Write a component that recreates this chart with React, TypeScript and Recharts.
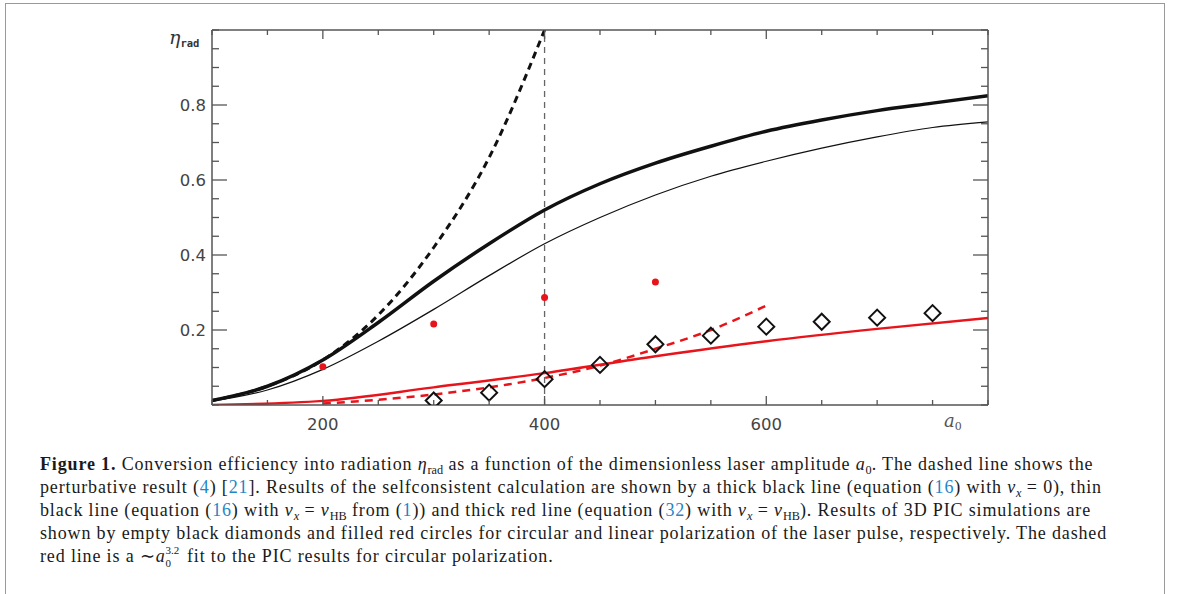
import React from "react";
import {
  ComposedChart,
  Line,
  Scatter,
  XAxis,
  YAxis,
  ReferenceLine,
} from "recharts";

// a0 grid for the model curves
const curveA0 = [100, 150, 200, 250, 300, 350, 400, 450, 500, 550, 600, 650, 700, 750, 800];
const thickBlack = [0.012, 0.05, 0.12, 0.22, 0.33, 0.43, 0.52, 0.59, 0.645, 0.69, 0.73, 0.76, 0.785, 0.805, 0.825];
const thinBlack = [0.01, 0.04, 0.095, 0.17, 0.255, 0.345, 0.43, 0.5, 0.56, 0.61, 0.65, 0.685, 0.715, 0.74, 0.755];

// perturbative result (dashed black)
const perturbA0 = [100, 150, 200, 250, 300, 350, 400];
const perturb = [0.012, 0.05, 0.12, 0.24, 0.42, 0.66, 1.0];

// thick red line
const redA0 = [100, 200, 300, 400, 500, 600, 700, 800];
const redSolid = [0.0, 0.011, 0.047, 0.085, 0.13, 0.17, 0.203, 0.232];

// dashed red fit
const fitA0 = [200, 250, 300, 350, 400, 450, 500, 550, 600];
const redFit = [0.004, 0.014, 0.028, 0.047, 0.072, 0.105, 0.15, 0.2, 0.265];

// PIC results
const circA0 = [300, 350, 400, 450, 500, 550, 600, 650, 700, 750];
const circEta = [0.012, 0.033, 0.069, 0.107, 0.162, 0.185, 0.209, 0.222, 0.233, 0.245];
const linA0 = [200, 300, 400, 500];
const linEta = [0.102, 0.216, 0.287, 0.328];

const xTicks = [100, 150, 200, 250, 300, 350, 400, 450, 500, 550, 600, 650, 700, 750, 800];
const xLabels = [200, 400, 600];
const yTicks = [0, 0.05, 0.1, 0.15, 0.2, 0.25, 0.3, 0.35, 0.4, 0.45, 0.5, 0.55, 0.6, 0.65, 0.7, 0.75, 0.8, 0.85, 0.9, 0.95, 1.0];
const yLabels = [0.2, 0.4, 0.6, 0.8];

const pts = (xs: number[], ys: number[]) => xs.map((x, i) => ({ x, y: ys[i] }));

const AXIS = "#555";
const RED = "#e8141b";
const TICK_FONT = "DejaVu Sans";

const isMajor = (v: number, list: number[]) => list.some((l) => Math.abs(l - v) < 1e-6);

const LeftTick = (p: any) => {
  const major = isMajor(p.payload.value, yLabels);
  return (
    <g>
      <line x1={p.x} y1={p.y} x2={p.x + (major ? 15 : 7)} y2={p.y} stroke={AXIS} strokeWidth={1.3} />
      {major && (
        <text x={p.x - 6} y={p.y} textAnchor="end" dominantBaseline="central" fontFamily={TICK_FONT} fontSize={16.5} fill="#444">
          {p.payload.value.toFixed(1)}
        </text>
      )}
    </g>
  );
};

const RightTick = (p: any) => {
  const major = isMajor(p.payload.value, yLabels);
  return <line x1={p.x} y1={p.y} x2={p.x - (major ? 15 : 7)} y2={p.y} stroke={AXIS} strokeWidth={1.3} />;
};

const BottomTick = (p: any) => {
  const major = isMajor(p.payload.value, xLabels);
  return (
    <g>
      <line x1={p.x} y1={p.y} x2={p.x} y2={p.y - (major ? 9 : 5)} stroke={AXIS} strokeWidth={1.3} />
      {major && (
        <text x={p.x} y={p.y + 19} textAnchor="middle" dominantBaseline="central" fontFamily={TICK_FONT} fontSize={16.5} fill="#444">
          {p.payload.value}
        </text>
      )}
    </g>
  );
};

const TopTick = (p: any) => {
  const major = isMajor(p.payload.value, xLabels);
  return <line x1={p.x} y1={p.y} x2={p.x} y2={p.y + (major ? 9 : 5)} stroke={AXIS} strokeWidth={1.3} />;
};

const Diamond = (p: any) => {
  const { cx, cy } = p;
  const r = 8;
  return (
    <path
      d={`M${cx},${cy - r} L${cx + r},${cy} L${cx},${cy + r} L${cx - r},${cy} Z`}
      fill="none"
      stroke="#111"
      strokeWidth={2}
    />
  );
};

const Dot = (p: any) => <circle cx={p.cx} cy={p.cy} r={3.5} fill={RED} />;

const blue = { color: "#1f86c8" };
const subStyle: React.CSSProperties = { fontSize: "0.68em", verticalAlign: "-0.35em", lineHeight: 0, letterSpacing: 0 };

const V = ({ s }: { s: React.ReactNode }) => (
  <>
    <i>ν</i>
    <span style={subStyle}>{s}</span>
  </>
);

export default function App() {
  const lineStyle: React.CSSProperties = {
    height: 23,
    lineHeight: "23px",
    whiteSpace: "nowrap",
  };
  return (
    <div style={{ position: "absolute", left: 0, top: 0, width: 1179, height: 594, background: "#fff", overflow: "hidden" }}>
      <div
        style={{
          position: "absolute",
          left: 5,
          top: 3,
          width: 1158,
          height: 620,
          border: "1.5px solid #9a9a9a",
        }}
      />
      <div style={{ position: "absolute", left: 0, top: 0 }}>
        <ComposedChart width={1179} height={440} margin={{ top: 29, right: 190, bottom: 0, left: 0 }}>
          <XAxis
            xAxisId="b"
            type="number"
            dataKey="x"
            domain={[100, 800]}
            ticks={xTicks}
            interval={0}
            tickSize={0}
            tickMargin={0}
            tickLine={false}
            tick={<BottomTick />}
            axisLine={{ stroke: AXIS, strokeWidth: 1.5 }}
            height={35}
            allowDataOverflow
          />
          <XAxis
            xAxisId="t"
            orientation="top"
            type="number"
            dataKey="x"
            domain={[100, 800]}
            ticks={xTicks}
            interval={0}
            tickSize={0}
            tickMargin={0}
            tickLine={false}
            tick={<TopTick />}
            axisLine={{ stroke: AXIS, strokeWidth: 1.5 }}
            height={1}
            allowDataOverflow
          />
          <YAxis
            yAxisId="l"
            type="number"
            domain={[0, 1]}
            ticks={yTicks}
            interval={0}
            tickSize={0}
            tickMargin={0}
            tickLine={false}
            tick={<LeftTick />}
            axisLine={{ stroke: AXIS, strokeWidth: 1.5 }}
            width={212}
            allowDataOverflow
          />
          <YAxis
            yAxisId="r"
            orientation="right"
            type="number"
            domain={[0, 1]}
            ticks={yTicks}
            interval={0}
            tickSize={0}
            tickMargin={0}
            tickLine={false}
            tick={<RightTick />}
            axisLine={{ stroke: AXIS, strokeWidth: 1.5 }}
            width={1}
            allowDataOverflow
          />
          <ReferenceLine xAxisId="b" yAxisId="l" x={400} stroke="#666" strokeWidth={1.3} strokeDasharray="6 5" />
          <Line
            xAxisId="b"
            yAxisId="l"
            data={pts(perturbA0, perturb)}
            dataKey="y"
            type="monotone"
            stroke="#111"
            strokeWidth={3}
            strokeDasharray="7 5"
            dot={false}
            isAnimationActive={false}
          />
          <Line
            xAxisId="b"
            yAxisId="l"
            data={pts(curveA0, thickBlack)}
            dataKey="y"
            type="monotone"
            stroke="#111"
            strokeWidth={3.5}
            dot={false}
            isAnimationActive={false}
          />
          <Line
            xAxisId="b"
            yAxisId="l"
            data={pts(curveA0, thinBlack)}
            dataKey="y"
            type="monotone"
            stroke="#111"
            strokeWidth={1.2}
            dot={false}
            isAnimationActive={false}
          />
          <Line
            xAxisId="b"
            yAxisId="l"
            data={pts(redA0, redSolid)}
            dataKey="y"
            type="monotone"
            stroke={RED}
            strokeWidth={2.5}
            dot={false}
            isAnimationActive={false}
          />
          <Line
            xAxisId="b"
            yAxisId="l"
            data={pts(fitA0, redFit)}
            dataKey="y"
            type="monotone"
            stroke={RED}
            strokeWidth={2.5}
            strokeDasharray="8 6"
            dot={false}
            isAnimationActive={false}
          />
          <Scatter
            xAxisId="b"
            yAxisId="l"
            data={pts(circA0, circEta)}
            dataKey="y"
            shape={<Diamond />}
            isAnimationActive={false}
          />
          <Scatter
            xAxisId="b"
            yAxisId="l"
            data={pts(linA0, linEta)}
            dataKey="y"
            shape={<Dot />}
            isAnimationActive={false}
          />
        </ComposedChart>
      </div>

      <div style={{ position: "absolute", left: 169, top: 26, fontFamily: "DejaVu Serif", color: "#333", fontSize: 19 }}>
        <i>η</i>
        <span style={{ fontSize: 10.5, fontWeight: "bold", fontFamily: "DejaVu Sans Mono", verticalAlign: "-0.3em" }}>rad</span>
      </div>
      <div style={{ position: "absolute", left: 944, top: 410, fontFamily: "DejaVu Serif", color: "#555", fontSize: 18 }}>
        <i>a</i>
        <span style={{ fontSize: 11, verticalAlign: "-0.3em" }}>0</span>
      </div>

      <div
        style={{
          position: "absolute",
          left: 40,
          top: 453,
          fontFamily: "Liberation Serif",
          fontSize: 18,
          letterSpacing: 0.85,
          color: "#1a1a1a",
        }}
      >
        <div style={lineStyle}>
          <b>Figure 1.</b> Conversion efficiency into radiation <i>η</i>
          <span style={subStyle}>rad</span> as a function of the dimensionless laser amplitude <i>a</i>
          <span style={subStyle}>0</span>. The dashed line shows the
        </div>
        <div style={lineStyle}>
          perturbative result (<span style={blue}>4</span>) [<span style={blue}>21</span>]. Results of the selfconsistent
          calculation are shown by a thick black line (equation (<span style={blue}>16</span>) with <V s={<i>x</i>} /> = 0),
          thin
        </div>
        <div style={lineStyle}>
          black line (equation (<span style={blue}>16</span>) with <V s={<i>x</i>} /> = <V s="HB" /> from (
          <span style={blue}>1</span>)) and thick red line (equation (<span style={blue}>32</span>) with{" "}
          <V s={<i>x</i>} /> = <V s="HB" />). Results of 3D PIC simulations are
        </div>
        <div style={lineStyle}>
          shown by empty black diamonds and filled red circles for circular and linear polarization of the laser pulse,
          respectively. The dashed
        </div>
        <div style={lineStyle}>
          red line is a ∼<i>a</i>
          <span style={{ display: "inline-block", position: "relative", width: 16, height: 10, letterSpacing: 0 }}>
            <span style={{ position: "absolute", left: 0, top: -7, fontSize: 11, lineHeight: "11px" }}>3.2</span>
            <span style={{ position: "absolute", left: 0, top: 6, fontSize: 11, lineHeight: "11px" }}>0</span>
          </span>{" "}
          fit to the PIC results for circular polarization.
        </div>
      </div>
    </div>
  );
}
